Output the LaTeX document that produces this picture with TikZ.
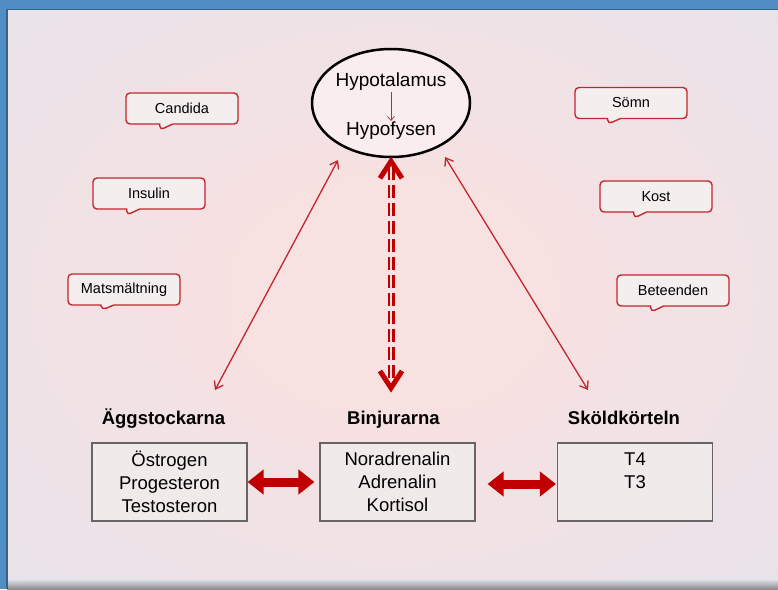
\documentclass[tikz,border=0pt]{standalone}
\usepackage{fontspec}
\setmainfont{Liberation Sans}
\usetikzlibrary{positioning,arrows.meta,calc,shapes.geometric,shapes.callouts}
\definecolor{slidered}{HTML}{C00000}
\definecolor{bubblered}{HTML}{C4262E}
\definecolor{bubblefill}{HTML}{F4EEEF}
\definecolor{boxfill}{HTML}{F1EAEB}
\definecolor{slidepink}{HTML}{F7E1E1}
\definecolor{slidegrey}{HTML}{E2E4EE}
\definecolor{frameblue}{HTML}{4F8DC2}
\pgfdeclareradialshading{slideglow}{\pgfpoint{0bp}{0bp}}{color(0bp)=(slidepink); color(10bp)=(slidepink); color(48bp)=(slidegrey); color(72bp)=(slidegrey)}
\tikzset{
  bubble/.style={rectangle callout, draw=bubblered, line width=1.4pt, rounded corners=4pt,
    fill=bubblefill, minimum width=112pt, minimum height=31pt, inner sep=2pt,
    font=\fontsize{14.5}{16}\selectfont, callout pointer width=13pt},
  organbox/.style={draw=black!60, line width=1.1pt, fill=boxfill, align=center,
    minimum width=155pt, minimum height=78pt, inner sep=2pt,
    font=\fontsize{18.5}{23}\selectfont},
  headtext/.style={font=\fontsize{18.5}{22}\selectfont\bfseries, inner sep=2pt,
    text height=14pt, text depth=4pt},
  hypotext/.style={font=\fontsize{19}{22}\selectfont, inner sep=1pt},
  thinarrow/.style={{Straight Barb[length=7pt,width=10pt]}-{Straight Barb[length=7pt,width=10pt]}, draw=bubblered, line width=1.3pt},
  blockarrow/.style={{Triangle[width=24pt,length=16pt]}-{Triangle[width=24pt,length=16pt]}, draw=slidered, line width=9pt},
  dashlink/.style={draw=slidered, double=slidepink, double distance=2pt, line width=2.5pt, dash pattern=on 13pt off 5pt},
  chevron/.style={draw=slidered, line width=5pt, line cap=butt, line join=miter},
}
\begin{document}
\begin{tikzpicture}[x=1pt,y=1pt]
  \useasboundingbox (0,0) rectangle (778,-589);
  % slide background
  \fill[frameblue] (0,0) rectangle (778,-589);
  \shade[shading=slideglow] (7,-9) rectangle (778,-582);
  \shade[top color=slidegrey, bottom color=black!45] (7,-579) rectangle (778,-589);
  \draw[frameblue!70!black, line width=2pt] (7,-9) -- (7,-589);
  \draw[frameblue!70!black, line width=1pt] (7,-9) -- (778,-9);

  % hypothalamus / pituitary
  \node[ellipse, draw=black, line width=2.5pt, fill=slidepink!60!white, minimum width=158pt, minimum height=108pt] (hypo) at (391,-103) {};
  \node[hypotext] (hypotal) at (391,-82) {Hypotalamus};
  \node[hypotext] (hypofys) at (391,-131) {Hypofysen};
  \draw[-{Straight Barb[length=4pt,width=7pt]}, draw=bubblered, line width=0.7pt] (hypotal.south) -- (hypofys.north);

  % factors
  \node[bubble, callout absolute pointer={(160,-130)}] (candida) at (182,-108.5) {Candida};
  \node[bubble, callout absolute pointer={(127,-215)}] (insulin) at (149,-193.5) {Insulin};
  \node[bubble, callout absolute pointer={(102,-310)}] (matsm) at (124,-289.5) {Matsmältning};
  \node[bubble, callout absolute pointer={(608,-124)}] (somn) at (631,-103) {Sömn};
  \node[bubble, callout absolute pointer={(634,-218)}] (kost) at (656,-196.5) {Kost};
  \node[bubble, callout absolute pointer={(651,-312)}] (beteenden) at (673,-290.5) {Beteenden};

  % glands
  \node[organbox] (ovaries) at (169.5,-482) {Östrogen\\Progesteron\\Testosteron};
  \node[organbox] (adrenal) at (397.5,-482) {Noradrenalin\\Adrenalin\\Kortisol};
  \node[organbox] (thyroid) at (635,-482) {T4\\T3\\\mbox{}};
  \node[headtext, above=12pt of ovaries, xshift=-6pt] (ovhead) {Äggstockarna};
  \node[headtext, above=12pt of adrenal, xshift=-4pt] (adhead) {Binjurarna};
  \node[headtext, above=12pt of thyroid, xshift=-11pt] (thhead) {Sköldkörteln};

  \draw[blockarrow] (ovaries.east) -- ($(adrenal.west)+(-5,0)$);
  \draw[blockarrow] ($(adrenal.east)+(12,-2)$) -- ($(thyroid.west)+(-1,-2)$);

  % links to the hypothalamus
  \coordinate (ovtop) at (215,-390);
  \coordinate (thtop) at (588,-390);
  \coordinate (hypoleft) at (338,-160);
  \coordinate (hyporight) at (445,-157);
  \draw[thinarrow] (ovtop) -- (hypoleft);
  \draw[thinarrow] (thtop) -- (hyporight);

  \coordinate (uptip) at ($(hypo.south)+(0,-3)$);
  \coordinate (downtip) at (391,-388);
  \draw[dashlink] ($(uptip)+(0,-6)$) -- ($(downtip)+(0,6)$);
  \draw[chevron] ($(uptip)+(-11,-17)$) -- (uptip) -- ($(uptip)+(11,-17)$);
  \draw[chevron] ($(downtip)+(-11,17)$) -- (downtip) -- ($(downtip)+(11,17)$);
\end{tikzpicture}
\end{document}
